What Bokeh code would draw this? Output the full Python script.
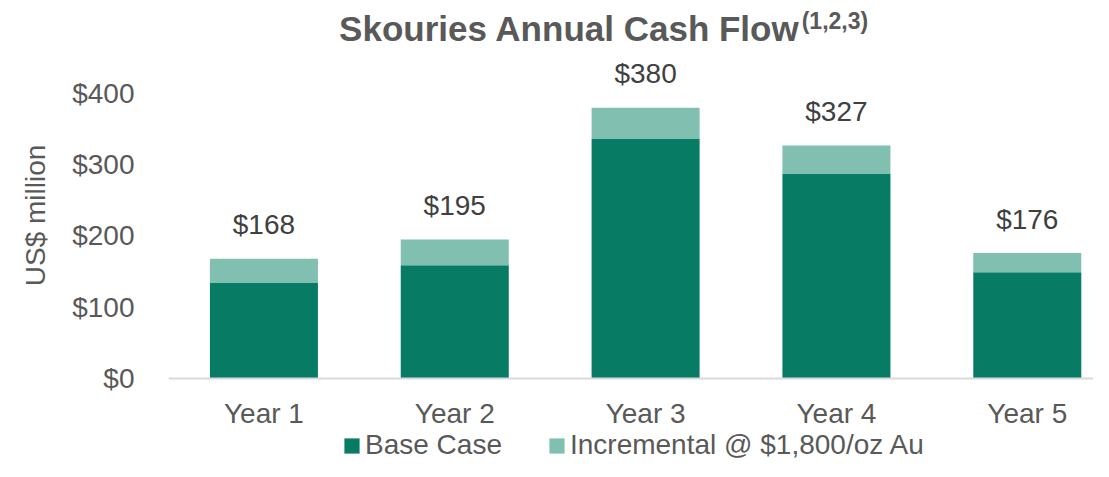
from bokeh.plotting import figure
from bokeh.models import Range1d, FixedTicker, Legend, LegendItem, Label, ColumnDataSource
from bokeh.embed import file_html
from bokeh.resources import INLINE
from bokeh.core.properties import value

categories = ["Year 1", "Year 2", "Year 3", "Year 4", "Year 5"]
base_case = [134, 159, 336, 287, 149]
incremental = [34, 36, 44, 40, 27]
totals = [168, 195, 380, 327, 176]
y_ticks = [0, 100, 200, 300, 400]
y_tick_labels = ["$0", "$100", "$200", "$300", "$400"]
series_names = ["Base Case", "Incremental @ $1,800/oz Au"]

FONT = "Liberation Sans"
BASE_COLOR = "#077B64"
INC_COLOR = "#81BFB1"
AXIS_TEXT = "#595959"
LABEL_TEXT = "#404040"

xs = list(range(1, len(categories) + 1))
src = ColumnDataSource(dict(
    x=xs, base=base_case, inc=incremental, top=totals,
    label=["$" + str(t) for t in totals],
))

p = figure(width=1093, height=461, output_backend="svg", toolbar_location=None,
           x_range=Range1d(0.5, 5.347), y_range=Range1d(-116.5, 530.5),
           min_border_left=168, min_border_right=0, min_border_top=0,
           min_border_bottom=0)
p.outline_line_color = None
p.xgrid.grid_line_color = None
p.ygrid.grid_line_color = None
p.background_fill_color = "white"
p.border_fill_color = "white"

rs = p.vbar_stack(["base", "inc"], x="x", width=0.566, color=[BASE_COLOR, INC_COLOR],
                  line_color=None, source=src)

p.text(x="x", y="top", text="label", source=src, text_align="center",
       text_baseline="middle", y_offset=-34, text_font=value(FONT),
       text_font_size="28px", text_color=LABEL_TEXT)

# y axis
ya = p.yaxis[0]
ya.ticker = FixedTicker(ticks=y_ticks)
ya.major_label_overrides = {t: l for t, l in zip(y_ticks, y_tick_labels)}
ya.axis_line_color = None
ya.major_tick_line_color = None
ya.minor_tick_line_color = None
ya.major_label_text_font = FONT
ya.major_label_text_font_size = "28px"
ya.major_label_text_color = AXIS_TEXT
ya.major_label_standoff = 28
ya.axis_label = "\u00a0\u00a0\u00a0\u00a0US$ million"
ya.axis_label_text_font = FONT
ya.axis_label_text_font_size = "28px"
ya.axis_label_text_font_style = "normal"
ya.axis_label_text_color = AXIS_TEXT
ya.axis_label_standoff = 18

# x axis, pinned at y = 0 inside the frame
xa = p.xaxis[0]
xa.fixed_location = 0
xa.ticker = FixedTicker(ticks=xs)
xa.major_label_overrides = {x: c for x, c in zip(xs, categories)}
xa.axis_line_color = "#D9D9D9"
xa.axis_line_width = 2
xa.major_tick_line_color = None
xa.minor_tick_line_color = None
xa.major_label_text_font = FONT
xa.major_label_text_font_size = "28px"
xa.major_label_text_color = AXIS_TEXT
xa.major_label_standoff = 14

# title
p.add_layout(Label(x=3.809, y=491.2, text="Skouries Annual Cash Flow", text_align="right",
                   text_baseline="middle", text_font=FONT, text_font_size="35px",
                   text_font_style="bold", text_color=AXIS_TEXT))
p.add_layout(Label(x=3.818, y=501.5, text="(1,2,3)", text_align="left",
                   text_baseline="middle", text_font=FONT, text_font_size="23px",
                   text_font_style="bold", text_color=AXIS_TEXT))

legend = Legend(items=[LegendItem(label=series_names[0], renderers=[rs[0]]),
                       LegendItem(label=series_names[1], renderers=[rs[1]])],
                orientation="horizontal", location=(174, 0),
                glyph_width=19, glyph_height=19, label_standoff=4, spacing=45,
                padding=0, margin=0, border_line_color=None, background_fill_alpha=0,
                label_text_font=FONT, label_text_font_size="28px",
                label_text_color=AXIS_TEXT)
p.add_layout(legend, "center")

open("out.html", "w").write(file_html(p, INLINE))
